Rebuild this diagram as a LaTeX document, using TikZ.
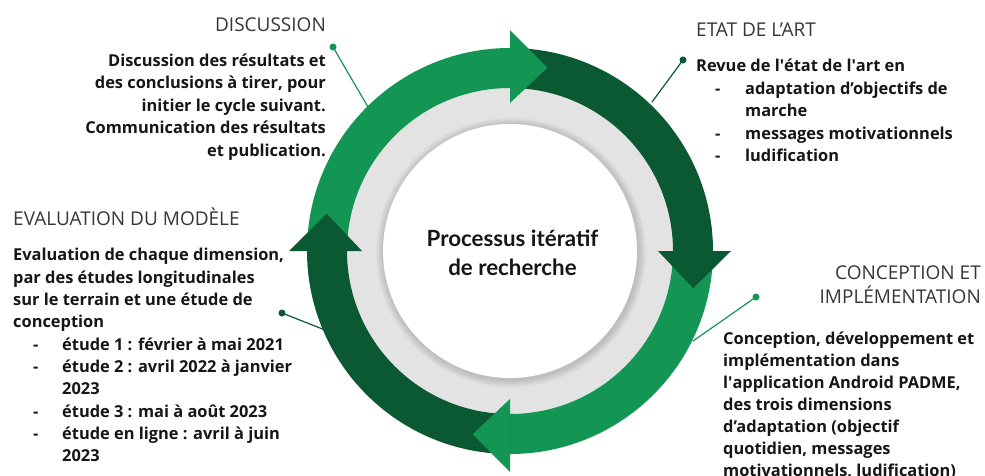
\documentclass[tikz,border=0pt]{standalone}
\usepackage{fontspec}
\setmainfont{Open Sans}
\newfontfamily\ctrfont{Lato}
\usetikzlibrary{calc}
\definecolor{lg}{RGB}{19,150,84}
\definecolor{dg}{RGB}{11,89,51}
\definecolor{ringgray}{RGB}{227,227,227}
\definecolor{headgray}{RGB}{55,55,55}
\definecolor{txt}{RGB}{22,22,22}
\newcommand{\sq}{\textquotesingle}
\begin{document}
\begin{tikzpicture}[x=1pt,y=-1pt,
  headtxt/.style={font=\fontsize{19}{24}\selectfont, text=headgray, inner sep=0pt},
  bodytxt/.style={font=\bfseries\fontsize{16.4}{#1}\selectfont, text=txt, inner sep=0pt},
  leader/.style={line width=1.2pt},
  dotm/.style={circle, inner sep=0pt, minimum size=7pt, fill=#1},
  seg/.style={fill=#1}]
\useasboundingbox (0,0) rectangle (985,475);
\fill[white] (0,0) rectangle (985,475);

% leaders
\node[dotm=lg] (d1) at (333,47) {};
\node[dotm=dg] (d2) at (683,60) {};
\node[dotm=lg] (d3) at (756,297) {};
\node[dotm=dg] (d4) at (282,313) {};
\coordinate (e1) at (368,107);
\coordinate (e2) at (652,102);
\coordinate (e3) at (693,341);
\coordinate (e4) at (325,330);
\draw[leader, lg] (d1.center) -- (e1);
\draw[leader, dg] (d2.center) -- (e2);
\draw[leader, lg] (d3.center) -- (e3);
\draw[leader, dg] (d4.center) -- (e4);

% ring
\begin{scope}[shift={(510pt,-251pt)}, x=1pt, y=1pt]
  \fill[ringgray] (0,0) circle[radius=165];
  \foreach \k in {1,...,8} {\fill[black, opacity=0.02] (1,-1.5) circle[radius=127+\k];}
  \fill[white] (0,0) circle[radius=127];
  % bodies
  \fill[seg=lg] (180:203) arc[start angle=180, end angle=90, radius=203] -- (90:163) arc[start angle=90, end angle=180, radius=163] -- cycle;
  \fill[seg=dg] (90:203) arc[start angle=90, end angle=0, radius=203] -- (0:163) arc[start angle=0, end angle=90, radius=163] -- cycle;
  \fill[seg=lg] (0:203) arc[start angle=0, end angle=-90, radius=203] -- (-90:163) arc[start angle=-90, end angle=0, radius=163] -- cycle;
  \fill[seg=dg] (-90:203) arc[start angle=-90, end angle=-180, radius=203] -- (-180:163) arc[start angle=-180, end angle=-90, radius=163] -- cycle;
  % heads
  \fill[lg] (90:148) -- (90:221) -- (78.5:187) -- cycle;
  \fill[dg] (0:148) -- (0:221) -- (-11.5:187) -- cycle;
  \fill[lg] (-90:148) -- (-90:221) -- (-101.5:187) -- cycle;
  \fill[dg] (180:148) -- (180:221) -- (168.5:187) -- cycle;
  \node[align=center, inner sep=0pt, anchor=base, font=\ctrfont\bfseries\fontsize{22.3}{28.3}\selectfont, text=txt] (ctr) at (2.5,-24) {Processus itératif\\de recherche};
\end{scope}

% texts (multi-line nodes anchored at the baseline of their last line)
\node[headtxt, anchor=base east] (h1) at (326,31) {DISCUSSION};
\node[bodytxt=22.6, anchor=base east, align=right] (b1) at (326,156.4) {Discussion des résultats et\\des conclusions à tirer, pour\\initier le cycle suivant.\\Communication des résultats\\et publication.};

\node[headtxt, anchor=base west] (h2) at (696,36.7) {ETAT DE L’ART};
\node[bodytxt=22.5, anchor=base west, align=left] (b2) at (696,161.7) {Revue de l\sq état de l\sq art en\\
\hspace*{19pt}\makebox[30pt][l]{-}adaptation d’objectifs de\\
\hspace*{49pt}marche\\
\hspace*{19pt}\makebox[30pt][l]{-}messages motivationnels\\
\hspace*{19pt}\makebox[30pt][l]{-}ludification};

\node[headtxt, anchor=base east, align=right] (h3) at (981,303.3) {CONCEPTION ET\\IMPLÉMENTATION};
\node[bodytxt=22, anchor=base west, align=left] (b3) at (723,476) {Conception, développement et\\implémentation dans\\l\sq application Android PADME,\\des trois dimensions\\d’adaptation (objectif\\quotidien, messages\\motivationnels, ludification)};

\node[headtxt, anchor=base west] (h4) at (13,225) {EVALUATION DU MODÈLE};
\node[bodytxt=22.33, anchor=base west, align=left] (b4) at (13,461.7) {Evaluation de chaque dimension,\\par des études longitudinales\\sur le terrain et une étude de\\conception\\
\hspace*{20pt}\makebox[29pt][l]{-}étude 1 : février à mai 2021\\
\hspace*{20pt}\makebox[29pt][l]{-}étude 2 : avril 2022 à janvier\\
\hspace*{49pt}2023\\
\hspace*{20pt}\makebox[29pt][l]{-}étude 3 : mai à août 2023\\
\hspace*{20pt}\makebox[29pt][l]{-}étude en ligne : avril à juin\\
\hspace*{49pt}2023};
\end{tikzpicture}
\end{document}
